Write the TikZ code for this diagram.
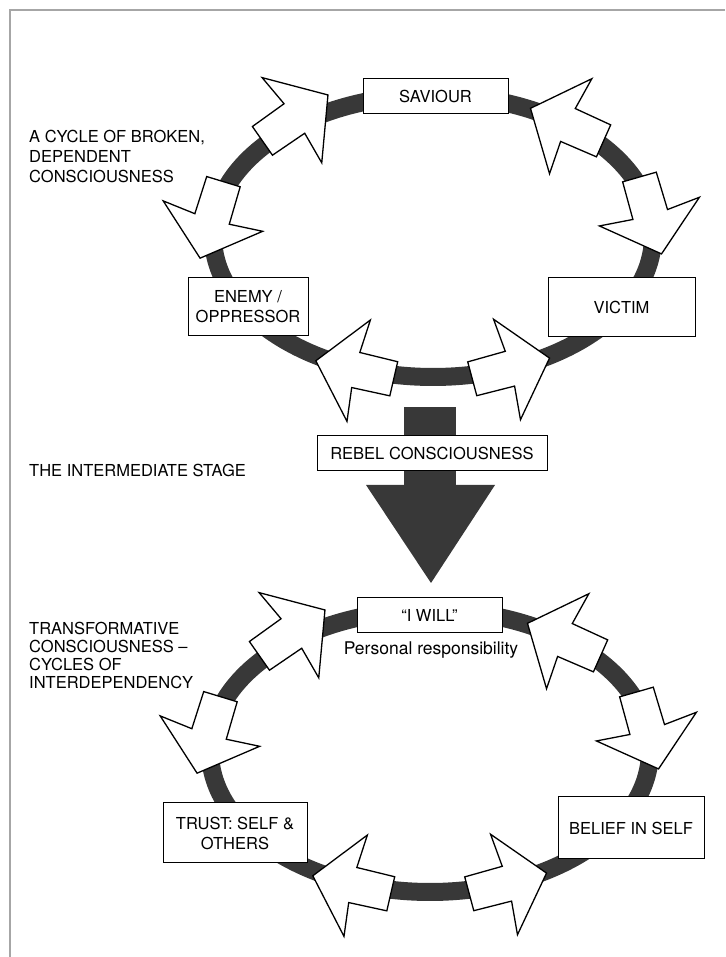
\documentclass[tikz,border=0pt]{standalone}
\usepackage{fontspec}
\setmainfont{TeX Gyre Heros}
\usetikzlibrary{calc,positioning}

\tikzset{
  ring/.style={draw=black!78, line width=18pt},
  cyclearrow/.style={draw, fill=white, line width=1.3pt, line join=miter},
  label box/.style={draw, fill=white, line width=1pt, align=center, inner sep=0pt},
  side text/.style={align=left, inner sep=0pt, anchor=north west},
}

% six hollow arrows round a cycle centred at #1
\newcommand{\cyclearrows}[1]{%
  \foreach \pos/\dir in {139/35, 41/156, 24/-74, 158/-107, -80/15, -100/167}
    \draw[cyclearrow, shift={($(#1)+(\pos:226 and 145)$)}, rotate=\dir]
      (0,17.5) -- (39,18) -- (36,52) -- (80,0) -- (36,-52) -- (39,-18) -- (0,-17.5) -- cycle;
}

\begin{document}
\begin{tikzpicture}[x=1pt, y=1pt, font=\fontsize{16.5}{20}\selectfont]
    \useasboundingbox (0,0) rectangle (725,957);

    % Frame
    \draw[black!35, line width=1.2pt] (725,947) -- (10,947) -- (10,0);

    % Centres of the two cycles
    \coordinate (top) at (433,721);
    \coordinate (bottom) at (430,206);

    % Rings and arrows
    \draw[ring] (top) ellipse [x radius=220, y radius=141];
    \draw[ring] (bottom) ellipse [x radius=220, y radius=141];
    \cyclearrows{top}
    \cyclearrows{bottom}

    % Broken, dependent cycle
    \node[label box, minimum width=145pt, minimum height=35pt] (saviour) at (435.5,860.5) {SAVIOUR};
    \node[label box, minimum width=120pt, minimum height=58pt] (enemy) at (248,650) {ENEMY /\\OPPRESSOR};
    \node[label box, minimum width=147pt, minimum height=59pt] (victim) at (621.5,649.5) {VICTIM};

    % Intermediate stage
    \fill[black!78] (404,550) rectangle (456,471);
    \fill[black!78] (366,472) -- (495,472) -- (431,374) -- cycle;
    \node[label box, minimum width=230pt, minimum height=35pt] (rebel) at (432,503.5) {REBEL CONSCIOUSNESS};

    % Transformative cycle
    \node[label box, minimum width=145pt, minimum height=35pt] (iwill) at (429.5,341.5) {``I WILL''};
    \node[anchor=base, inner sep=0pt, font=\fontsize{17.5}{20}\selectfont] (resp) at (431,302) {Personal responsibility};
    \node[label box, minimum width=144pt, minimum height=60pt] (trust) at (235,124) {TRUST: SELF \&\\OTHERS};
    \node[label box, minimum width=146pt, minimum height=62pt] (belief) at (631,129) {BELIEF IN SELF};

    % Side texts
    \node[side text, font=\fontsize{16.5}{20}\selectfont] (broken) at (29,827)
        {A CYCLE OF BROKEN,\\DEPENDENT\\CONSCIOUSNESS};
    \node[side text, anchor=base west] (stage) at (29,480) {THE INTERMEDIATE STAGE};
    \node[side text, font=\fontsize{16.5}{18}\selectfont] (transform) at (29,335)
        {TRANSFORMATIVE\\CONSCIOUSNESS --\\CYCLES OF\\INTERDEPENDENCY};
\end{tikzpicture}
\end{document}
